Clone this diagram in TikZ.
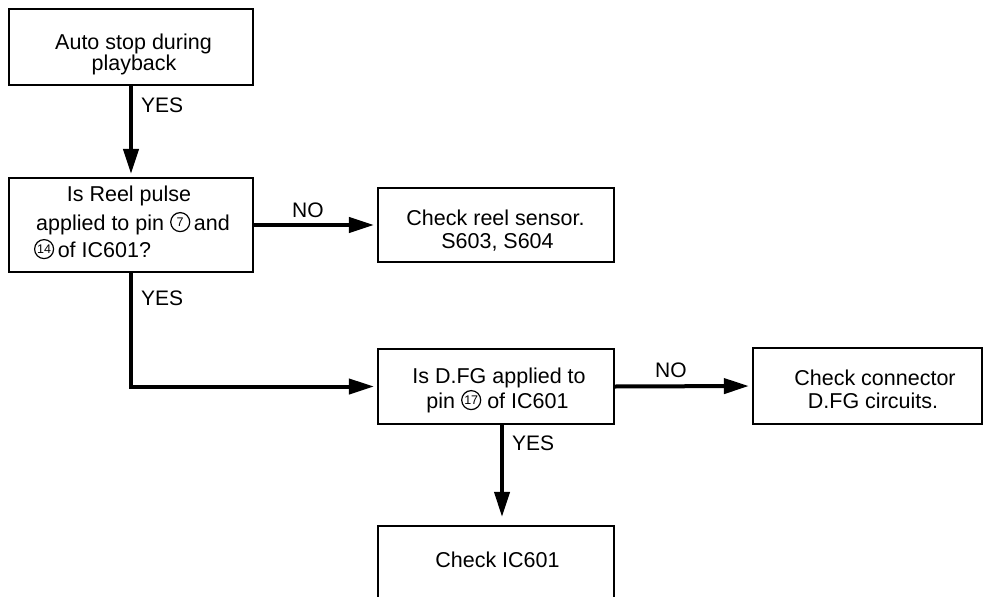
\documentclass[tikz,border=0pt]{standalone}
\usepackage{fontspec}
\setmainfont{Liberation Sans}
\usetikzlibrary{arrows.meta}
\newcommand{\cnum}[1]{\raisebox{3.6pt}{\tikz[baseline=(cn.base)]\node[draw,circle,line width=1.2pt,inner sep=0pt,minimum size=19pt,font=\fontsize{12.5}{12.5}\selectfont] (cn) {#1};}}
\begin{document}
\begin{tikzpicture}[x=1pt,y=-1pt,
  box/.style={draw,line width=2.2pt,inner sep=0pt},
  txt/.style={anchor=base,inner sep=0pt,font=\fontsize{21.5}{24}\selectfont},
  lbl/.style={anchor=base west,inner sep=0pt,font=\fontsize{21}{21}\selectfont},
  flow/.style={line width=4pt,-{Triangle[length=25pt,width=15pt]},shorten >=3pt}]
\useasboundingbox (0,0) rectangle (983,597);
\clip (0,0) rectangle (983,597);
% boxes
\node[box,minimum width=244pt,minimum height=76pt] (a) at (131,47) {};
\node[box,minimum width=244pt,minimum height=94pt] (b) at (131,225) {};
\node[box,minimum width=236pt,minimum height=74pt] (r) at (496,225) {};
\node[box,minimum width=236pt,minimum height=75pt] (c) at (496,386.5) {};
\node[box,minimum width=229pt,minimum height=76pt] (d) at (867.5,386) {};
\node[box,minimum width=236pt,minimum height=114pt] (e) at (496,583) {};
% texts
\node[txt] (a1) at (133.5,49) {Auto stop during};
\node[txt] (a2) at (134,70) {playback};
\node[txt] (b1) at (129,201) {Is Reel pulse};
\node[txt] (b2) at (133,230) {applied to pin \cnum{7}\,and};
\node[txt] (b3) at (92.5,257) {\cnum{14}\,of IC601?};
\node[txt] (r1) at (495.5,225) {Check reel sensor.};
\node[txt] (r2) at (497.5,248) {S603, S604};
\node[txt] (c1) at (499,383) {Is D.FG applied to};
\node[txt] (c2) at (497.5,408) {pin \cnum{17} of IC601};
\node[txt] (d1) at (875,385) {Check connector};
\node[txt] (d2) at (873,408) {D.FG circuits.};
\node[txt] (e1) at (497.5,567) {Check IC601};
% labels
\node[lbl] (y1) at (141,112) {YES};
\node[lbl] (y2) at (141,305) {YES};
\node[lbl] (y3) at (512,450) {YES};
\node[lbl] (n1) at (292,217) {NO};
\node[lbl] (n2) at (655,377) {NO};
% connectors
\draw[flow] (a.south) -- (b.north);
\draw[flow] (b.east) -- (r.west);
\draw[flow] (b.south) |- (c.west);
\draw[flow] (c.east) -- (d.west);
\draw[flow,shorten >=8pt] ([xshift=6pt]c.south) -- ([xshift=6pt]e.north);
\end{tikzpicture}
\end{document}
